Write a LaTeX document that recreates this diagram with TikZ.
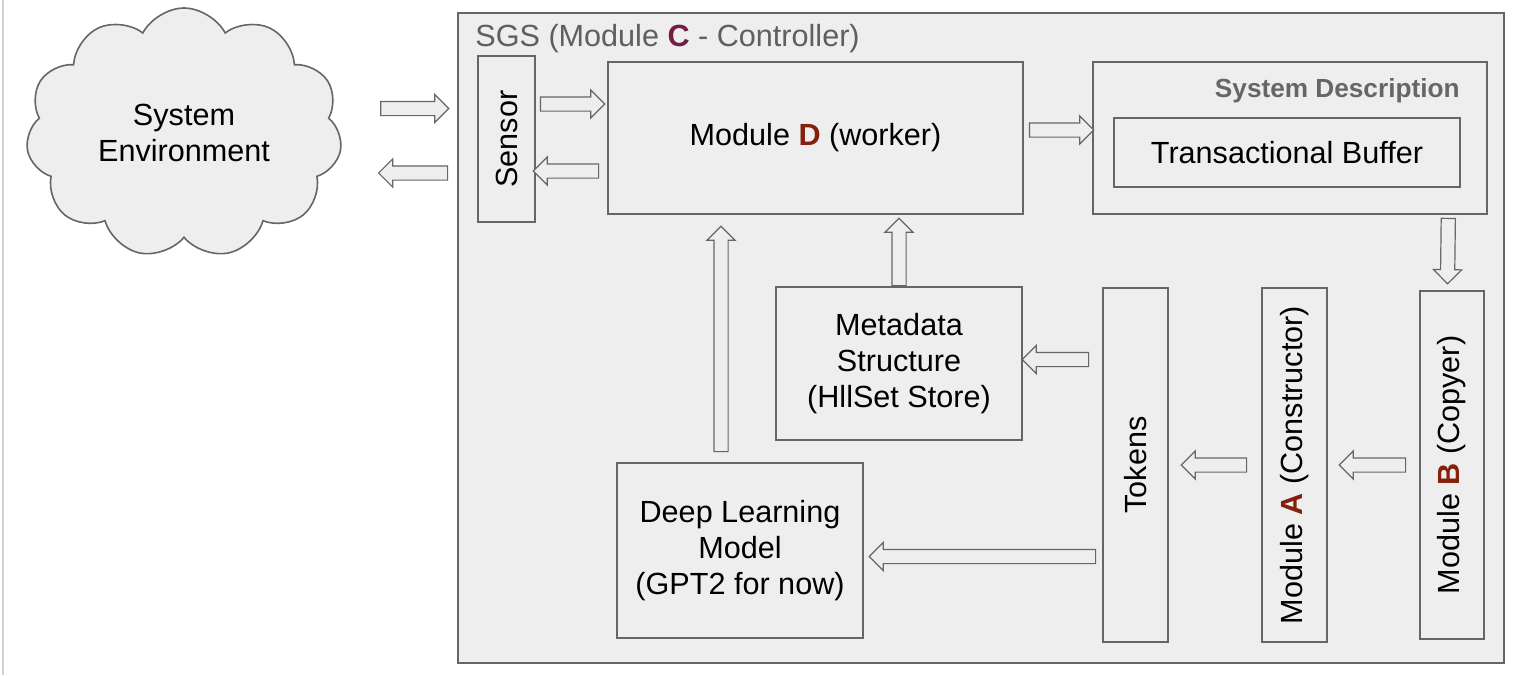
\documentclass[tikz,border=0pt]{standalone}
\usepackage{fontspec}
\setmainfont{Liberation Sans}
\usetikzlibrary{shapes.arrows,shapes.symbols,calc}
\definecolor{boxfill}{HTML}{EEEEEE}
\definecolor{edge}{HTML}{666666}
\definecolor{titlegray}{HTML}{5F5F5F}
\definecolor{modred}{HTML}{85200C}
\definecolor{modmag}{HTML}{741B47}
\tikzset{
	block/.style={draw=edge, fill=boxfill, line width=0.8pt, inner sep=0pt, align=center, font=\fontsize{15.3}{18}\selectfont},
	upright/.style={block, rotate=90},
	flowarrow/.style={single arrow, draw=edge, fill=boxfill, line width=0.6pt, inner sep=0pt, inner ysep=3.25pt, single arrow head extend=3.5pt, single arrow head indent=0pt, minimum width=0pt},
}
% hollow block arrow from #1 to #2
\newcommand{\blockflow}[2]{%
	\path let \p1=#1, \p2=#2, \n1={atan2(\y2-\y1,\x2-\x1)}, \n2={veclen(\x2-\x1,\y2-\y1)} in
		node[flowarrow, minimum height=\n2, rotate=\n1, anchor=tail] at (\p1) {};}
\begin{document}
\begin{tikzpicture}[x=0.5pt, y=-0.5pt]
		\useasboundingbox (0,0) rectangle (1516,675);
		\draw[gray!35, line width=0.8pt] (3,0) -- (3,675);
		\node[cloud, cloud puffs=11, cloud puff arc=125, cloud ignores aspect, draw=edge, fill=boxfill, line width=0.8pt, minimum width=158pt, minimum height=125pt, align=center, font=\fontsize{15.3}{18}\selectfont] (env) at (184,133) {System\\Environment};
		% SGS frame
		\node[block, minimum width=523pt, minimum height=325pt] (sgs) at (981,338) {};
		\node[anchor=base west, inner sep=0pt, text=titlegray, font=\fontsize{15.3}{18}\selectfont] (sgstitle) at (475,46) {SGS (Module \textbf{\color{modmag}C} - Controller)};
		\node[upright, minimum width=83pt, minimum height=28.5pt] (sensor) at (506.5,139) {Sensor};
		\node[block, minimum width=207.5pt, minimum height=76pt] (moduleD) at (815.5,138) {Module \textbf{\color{modred}D} (worker)};
		\node[block, minimum width=197pt, minimum height=76pt] (sysdesc) at (1290,138) {};
		\node[anchor=base east, inner sep=0pt, text=edge, font=\fontsize{13.1}{15}\selectfont\bfseries] (sysdesclabel) at (1460,97) {System Description};
		\node[block, minimum width=173pt, minimum height=34.5pt] (tbuf) at (1287,152.5) {Transactional Buffer};
		\node[upright, minimum width=174pt, minimum height=32pt] (moduleB) at (1452,465) {Module \textbf{\color{modred}B} (Copyer)};
		\node[upright, minimum width=177pt, minimum height=32.5pt] (moduleA) at (1294.5,465) {Module \textbf{\color{modred}A} (Constructor)};
		\node[upright, minimum width=177pt, minimum height=32.5pt] (tokens) at (1135.5,465) {Tokens};
		\node[block, minimum width=123pt, minimum height=76.5pt] (meta) at (899,363.5) {Metadata\\Structure\\(HllSet Store)};
		\node[block, minimum width=123pt, minimum height=87.5pt] (deep) at (740,550.5) {Deep Learning\\Model\\(GPT2 for now)};
		% arrows
		\blockflow{($(sensor.north)+(-97,-30.5)$)}{($(sensor.north)+(-29,-30.5)$)}
		\blockflow{($(sensor.north)+(-29,34)$)}{($(sensor.north)+(-98,34)$)}
		\blockflow{($(sensor.south)+(4,-35)$)}{($(moduleD.west)+(-3,-34)$)}
		\blockflow{($(moduleD.west)+(-8,33)$)}{($(sensor.south)+(-2,32)$)}
		\blockflow{($(moduleD.east)+(5,-8)$)}{($(sysdesc.west)+(1,-8)$)}
		\blockflow{($(sysdesc.south east)+(-39.5,3)$)}{($(moduleB.east)+(-4.5,-7)$)}
		\blockflow{($(moduleB.north)+(-13,0)$)}{($(moduleA.south)+(12,0)$)}
		\blockflow{($(moduleA.north)+(-14,0)$)}{($(tokens.south)+(13,0)$)}
		\blockflow{($(tokens.north)+(-13,-105.5)$)}{($(meta.east)+(0,-4)$)}
		\blockflow{($(tokens.north)+(-6,91.5)$)}{($(deep.east)+(6,6)$)}
		\blockflow{(meta.north)}{($(meta.north |- moduleD.south)+(0,4)$)}
		\blockflow{($(deep.north)+(-19,-10)$)}{($(deep.north |- moduleD.south)+(-19,12)$)}
	\end{tikzpicture}
\end{document}
